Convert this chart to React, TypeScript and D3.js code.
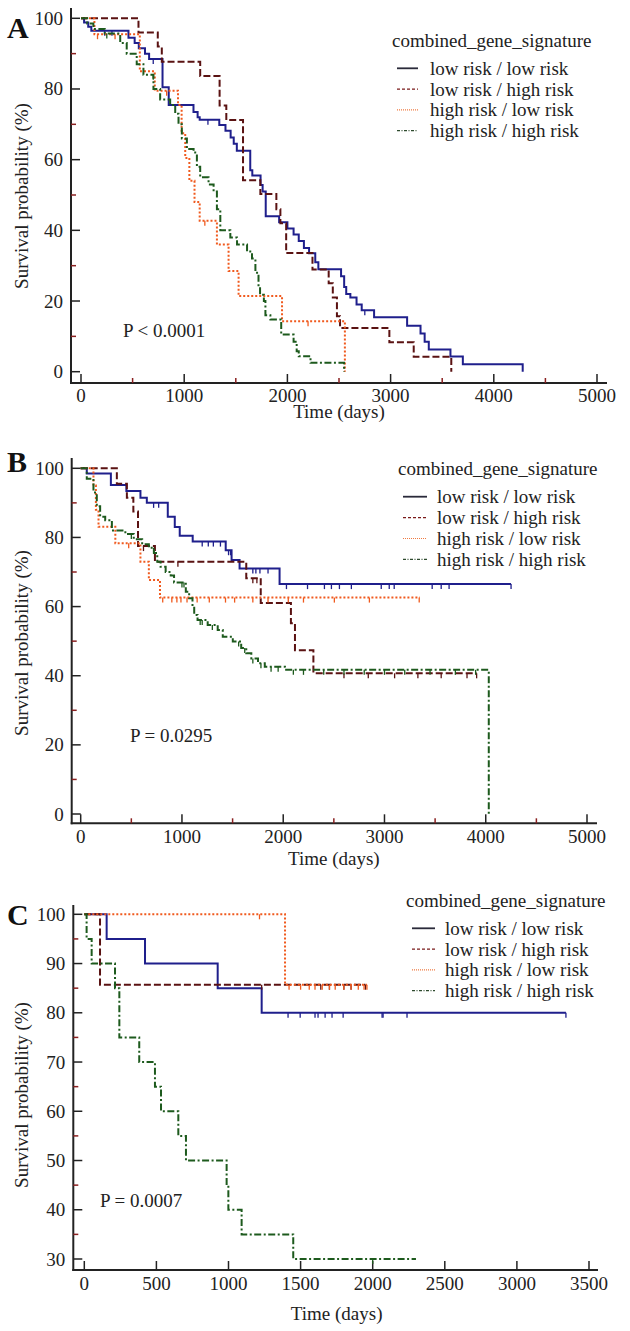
import React from "react";
import * as d3 from "d3";

// ---------- shared ----------
const SERIES_LABELS = ["low risk / low risk", "low risk / high risk", "high risk / low risk", "high risk / high risk"];
const LEGEND_TITLE = "combined_gene_signature";
const COLORS = ["#1f1f8c", "#5a1212", "#f05a1e", "#1d5a1d"];
const LEGEND_COLORS = ["#2a2a3a", "#7a1a1a", "#f07a40", "#2d4a2d"];
const DASHES = [undefined, "7,3", "2,2", "7,2.5,2,2.5"];

// ---------- Panel A ----------
const A_LL_t = [0, 30, 70, 100, 460, 520, 560, 620, 660, 790, 850, 1090, 1130, 1150, 1340, 1400, 1450, 1480, 1510, 1640, 1660, 1740, 1760, 1790, 1920, 2000, 2060, 2110, 2160, 2210, 2270, 2300, 2520, 2550, 2570, 2610, 2670, 2720, 2840, 3160, 3290, 3330, 3370, 3580, 3700, 4280];
const A_LL_s = [100, 98.8, 97.6, 96.5, 94.5, 93, 91.5, 90, 88.5, 80.5, 75.5, 73.5, 72, 71.3, 69.8, 68.2, 66.3, 64.5, 62.5, 57, 55.5, 52.8, 51, 44, 42.3, 40.5, 38.8, 37, 35, 33.5, 31, 29, 27, 24, 22, 21, 19, 17.4, 15.4, 13, 10.8, 8.5, 6.3, 4.3, 2.1, 0];
const A_LL_c = [230, 300, 700, 1230, 2750];
const A_LH_t = [0, 557, 744, 783, 1155, 1343, 1408, 1570, 1738, 1893, 1932, 1988, 2243, 2400, 2440, 2480, 2510, 2988, 3224, 3588];
const A_LH_s = [100, 96, 92, 87.7, 83.7, 75.3, 71.2, 54.2, 50.3, 46, 42, 33.6, 28.9, 25, 21, 15.7, 12.4, 8.3, 4.2, 0];
const A_LH_c: number[] = [];
const A_HL_t = [0, 130, 570, 715, 940, 975, 1010, 1050, 1100, 1150, 1317, 1430, 1527, 1948, 2557];
const A_HL_s = [100, 95.5, 85, 79.5, 75.5, 67.5, 60.5, 54, 48, 42.7, 36, 28.5, 21.4, 14.3, 0];
const A_HL_c = [160, 330, 830, 1200, 2200];
const A_HH_t = [0, 60, 120, 230, 380, 443, 540, 605, 702, 767, 864, 913, 945, 977, 1026, 1091, 1123, 1155, 1236, 1285, 1317, 1350, 1447, 1512, 1609, 1657, 1690, 1720, 1735, 1772, 1787, 1835, 1940, 2060, 2090, 2110, 2224, 2549];
const A_HH_s = [100, 98.5, 97, 95.7, 93, 90, 87, 84, 80, 77, 75.5, 73, 70, 66, 63, 62, 58, 55, 53, 51, 46, 40, 38, 36, 34, 32, 28, 24, 21.8, 20, 16, 14.8, 10.5, 8.5, 5.8, 4.4, 2.5, 0];
const A_HH_c = [250, 700];

// ---------- Panel B ----------
const B_LL_t = [0, 60, 298, 451, 590, 653, 860, 929, 978, 1106, 1432, 1490, 1569, 1964, 4250];
const B_LL_s = [100, 98.5, 95.2, 93.4, 91.5, 90, 86, 83, 80.5, 78.8, 76.3, 73.5, 71, 66.5, 66.5];
const B_LL_c = [720, 770, 1200, 1260, 1310, 1380, 1460, 1480, 1700, 1730, 1770, 1850, 2032, 2240, 2407, 2476, 2555, 2673, 2968, 3047, 3096, 3471, 3560, 3638, 4250];
const B_LH_t = [0, 357, 456, 520, 566, 733, 1635, 1778, 2076, 2116, 2298, 3910];
const B_LH_s = [100, 95.5, 91.5, 87.5, 77.5, 73, 68.2, 61, 55.2, 47.4, 40.7, 40.7];
const B_LH_c = [620, 960, 1700, 1740, 2600, 2840, 3100, 3330, 3560, 3815, 3910];
const B_HL_t = [0, 126, 150, 176, 342, 590, 673, 783, 3350];
const B_HL_s = [100, 95, 88, 83.1, 78.3, 73, 67.7, 62.6, 62.6];
const B_HL_c = [474, 810, 900, 950, 990, 1050, 1150, 1270, 1430, 1520, 1700, 1850, 2050, 2200, 2505, 2851, 3343];
const B_HH_t = [0, 60, 126, 159, 192, 242, 308, 441, 524, 607, 673, 723, 756, 789, 839, 889, 922, 1038, 1071, 1104, 1121, 1154, 1254, 1353, 1403, 1502, 1585, 1635, 1685, 1751, 1818, 2017, 4030];
const B_HH_s = [100, 97, 93, 89, 86, 85, 82, 81, 79.5, 78, 77, 75.5, 73, 71.5, 70, 69, 67, 64.3, 62.4, 60, 57.6, 56.1, 54.7, 53.2, 51.3, 49.9, 48, 46.5, 45, 43.6, 42.6, 41.7, 0];
const B_HH_c = [500, 720, 1000, 1020, 1180, 1200, 1300, 1560, 1620, 1700, 1780, 1880, 1950, 2100, 2200, 2400, 2600, 2800, 3000, 3200, 3450, 3700, 3900];

// ---------- Panel C ----------
const C_LL_t = [0, 155, 421, 925, 1230, 3340];
const C_LL_s = [100, 95, 90, 85, 80, 80];
const C_LL_c = [1413, 1497, 1600, 1621, 1670, 1718, 1795, 2065, 2072, 2238, 3340];
const C_LH_t = [0, 109, 1950];
const C_LH_s = [100, 85.7, 85.7];
const C_LH_c = [1230, 1640, 1700, 1800, 1850, 1950];
const C_HL_t = [0, 1392, 1960];
const C_HL_s = [100, 85.7, 85.7];
const C_HL_c = [1215, 1420, 1500, 1560, 1600, 1650, 1700, 1740, 1800, 1850, 1900, 1940, 1960];
const C_HH_t = [0, 16, 51, 213, 243, 381, 490, 532, 652, 705, 987, 999, 1091, 1449, 2300];
const C_HH_s = [100, 95, 90, 85, 75, 70, 65, 60, 55, 50, 45, 40, 35, 30, 30];
const C_HH_c = [2000];

// ---------- tick definitions ----------
const AB_X_TICKS = [0, 1000, 2000, 3000, 4000, 5000];
const AB_X_MINOR = [500, 1500, 2500, 3500, 4500];
const AB_Y_TICKS = [0, 20, 40, 60, 80, 100];
const AB_Y_MINOR = [10, 30, 50, 70, 90];
const C_X_TICKS = [0, 500, 1000, 1500, 2000, 2500, 3000, 3500];
const C_X_MINOR: number[] = [];
const C_Y_TICKS = [30, 40, 50, 60, 70, 80, 90, 100];
const C_Y_MINOR = [35, 45, 55, 65, 75, 85, 95];

const FONT = "'Liberation Serif', 'Times New Roman', serif";

type Series = { t: number[]; s: number[]; c: number[] };

function Panel(props: any) {
  const { letter, series, xDomain, xRange, yDomain, yRange, xTicks, xMinor, yTicks, yMinor, axisX, axisY, axisTop, axisRight, letterY, xLabelY, xTitleY, yTitleY, pText, pX, pY, legend } = props;
  const x = d3.scaleLinear().domain(xDomain).range(xRange);
  const y = d3.scaleLinear().domain(yDomain).range(yRange);
  const line = d3
    .line<[number, number]>()
    .x((d) => x(d[0]))
    .y((d) => y(d[1]))
    .curve(d3.curveStepAfter);
  const order = [0, 1, 2, 3];
  return (
    <g>
      <text x={7} y={letterY} fontFamily={FONT} fontWeight="bold" fontSize={30} fill="#111">{letter}</text>
      {/* axes */}
      <line x1={axisX} x2={axisX} y1={axisTop} y2={axisY + 1} stroke="#222" strokeWidth={2} />
      <line x1={axisX - 1} x2={axisRight} y1={axisY} y2={axisY} stroke="#222" strokeWidth={2} />
      {yTicks.map((v: number) => (
        <g key={"yt" + v}>
          <line x1={axisX} x2={axisX + 9} y1={y(v)} y2={y(v)} stroke="#222" strokeWidth={1.5} />
          <text x={axisX - 8} y={y(v)} textAnchor="end" dominantBaseline="central" fontFamily={FONT} fontSize={19} fill="#222">{v}</text>
        </g>
      ))}
      {yMinor.map((v: number) => (
        <line key={"ym" + v} x1={axisX} x2={axisX + 5} y1={y(v)} y2={y(v)} stroke="#8a2020" strokeWidth={1.5} />
      ))}
      {xTicks.map((v: number) => (
        <g key={"xt" + v}>
          <line x1={x(v)} x2={x(v)} y1={axisY} y2={axisY - 9} stroke="#222" strokeWidth={1.5} />
          <text x={x(v)} y={xLabelY} textAnchor="middle" dominantBaseline="central" fontFamily={FONT} fontSize={19} fill="#222">{v}</text>
        </g>
      ))}
      {xMinor.map((v: number) => (
        <line key={"xm" + v} x1={x(v)} x2={x(v)} y1={axisY} y2={axisY - 5} stroke="#8a2020" strokeWidth={1.5} />
      ))}
      <text x={(xRange[0] + xRange[1]) / 2} y={xTitleY} textAnchor="middle" dominantBaseline="central" fontFamily={FONT} fontSize={19} fill="#222">Time (days)</text>
      <text transform={`translate(21,${yTitleY}) rotate(-90)`} textAnchor="middle" dominantBaseline="central" fontFamily={FONT} fontSize={19} fill="#222">Survival probability (%)</text>
      {/* curves */}
      {order.map((i) => {
        const sr: Series = series[i];
        const pts = sr.t.map((t, k) => [t, sr.s[k]] as [number, number]);
        return (
          <g key={"s" + i}>
            <path d={line(pts) || ""} fill="none" stroke={COLORS[i]} strokeWidth={2} strokeDasharray={DASHES[i]} />
            {sr.c.map((ct, k) => {
              const idx = Math.max(0, d3.bisectRight(sr.t, ct) - 1);
              const sv = sr.s[idx];
              return <line key={k} x1={x(ct)} x2={x(ct)} y1={y(sv)} y2={y(sv) + 5} stroke={COLORS[i]} strokeWidth={1.3} />;
            })}
          </g>
        );
      })}
      <text x={pX} y={pY} dominantBaseline="central" fontFamily={FONT} fontSize={19} fill="#222">{pText}</text>
      {/* legend */}
      <text x={legend.titleX} y={legend.titleY} dominantBaseline="central" fontFamily={FONT} fontSize={19} fill="#222">{LEGEND_TITLE}</text>
      {SERIES_LABELS.map((lab, i) => {
        const ry = legend.rowY0 + i * legend.dy;
        return (
          <g key={"lg" + i}>
            <line x1={legend.lx1} x2={legend.lx2} y1={ry} y2={ry} stroke={LEGEND_COLORS[i]} strokeWidth={i === 0 ? 1.8 : 1.2} strokeDasharray={i === 0 ? undefined : i === 1 ? "3,2" : i === 2 ? "1,1" : "3,1.5,1,1.5"} />
            <text x={legend.tx} y={ry} dominantBaseline="central" fontFamily={FONT} fontSize={19} fill="#222">{lab}</text>
          </g>
        );
      })}
    </g>
  );
}

export default function App() {
  const seriesA: Series[] = [
    { t: A_LL_t, s: A_LL_s, c: A_LL_c },
    { t: A_LH_t, s: A_LH_s, c: A_LH_c },
    { t: A_HL_t, s: A_HL_s, c: A_HL_c },
    { t: A_HH_t, s: A_HH_s, c: A_HH_c },
  ];
  const seriesB: Series[] = [
    { t: B_LL_t, s: B_LL_s, c: B_LL_c },
    { t: B_LH_t, s: B_LH_s, c: B_LH_c },
    { t: B_HL_t, s: B_HL_s, c: B_HL_c },
    { t: B_HH_t, s: B_HH_s, c: B_HH_c },
  ];
  const seriesC: Series[] = [
    { t: C_LL_t, s: C_LL_s, c: C_LL_c },
    { t: C_LH_t, s: C_LH_s, c: C_LH_c },
    { t: C_HL_t, s: C_HL_s, c: C_HL_c },
    { t: C_HH_t, s: C_HH_s, c: C_HH_c },
  ];
  return (
    <svg width={630} height={1331} style={{ position: "absolute", left: 0, top: 0, background: "#fff" }}>
      <rect width={630} height={1331} fill="#fff" />
      <Panel
        letter="A" series={seriesA}
        xDomain={[0, 5000]} xRange={[81, 597]} yDomain={[0, 100]} yRange={[371.7, 18.3]}
        xTicks={AB_X_TICKS} xMinor={AB_X_MINOR} yTicks={AB_Y_TICKS} yMinor={AB_Y_MINOR}
        axisX={71} axisY={383} axisTop={8} axisRight={607}
        letterY={38} xLabelY={395} xTitleY={411} yTitleY={196}
        pText="P < 0.0001" pX={123} pY={330}
        legend={{ titleX: 392, titleY: 40, rowY0: 68.3, dy: 20.8, lx1: 397, lx2: 418, tx: 430 }}
      />
      <Panel
        letter="B" series={seriesB}
        xDomain={[0, 5000]} xRange={[80.7, 587]} yDomain={[0, 100]} yRange={[814, 468.3]}
        xTicks={AB_X_TICKS} xMinor={AB_X_MINOR} yTicks={AB_Y_TICKS} yMinor={AB_Y_MINOR}
        axisX={71.7} axisY={823.3} axisTop={458} axisRight={597}
        letterY={472} xLabelY={836} xTitleY={858} yTitleY={643}
        pText="P = 0.0295" pX={130} pY={735}
        legend={{ titleX: 398, titleY: 468.3, rowY0: 496.7, dy: 20.9, lx1: 403, lx2: 427, tx: 437 }}
      />
      <Panel
        letter="C" series={seriesC}
        xDomain={[0, 3500]} xRange={[84.3, 589]} yDomain={[30, 100]} yRange={[1259, 914.3]}
        xTicks={C_X_TICKS} xMinor={C_X_MINOR} yTicks={C_Y_TICKS} yMinor={C_Y_MINOR}
        axisX={73.3} axisY={1270} axisTop={905} axisRight={598}
        letterY={925} xLabelY={1283} xTitleY={1313} yTitleY={1095}
        pText="P = 0.0007" pX={100} pY={1200}
        legend={{ titleX: 406, titleY: 900, rowY0: 928.3, dy: 20.8, lx1: 412, lx2: 435, tx: 445 }}
      />
    </svg>
  );
}
